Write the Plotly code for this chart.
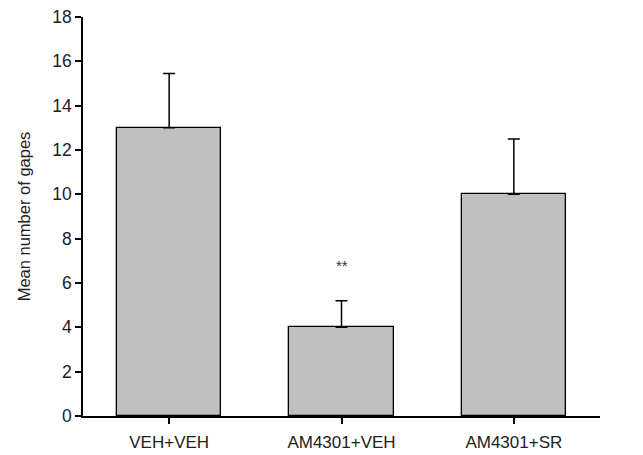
import plotly.graph_objects as go

categories = ["VEH+VEH", "AM4301+VEH", "AM4301+SR"]
means = [13.0, 4.0, 10.0]
sem_upper = [2.45, 1.2, 2.5]
significance = ["", "**", ""]
sig_y = [None, 6.8, None]
y_ticks = [0, 2, 4, 6, 8, 10, 12, 14, 16, 18]

fig = go.Figure()
fig.add_trace(go.Bar(
    x=categories, y=means,
    width=0.605,
    marker=dict(color="#c0c0c0", line=dict(color="black", width=1.3)),
    error_y=dict(type="data", symmetric=False, array=sem_upper,
                 arrayminus=[0, 0, 0], color="black", thickness=1.5, width=6),
    showlegend=False,
))

for c, s, yy in zip(categories, significance, sig_y):
    if s:
        fig.add_annotation(x=c, y=yy, text=s, showarrow=False,
                           font=dict(size=15, color="#333333"), yanchor="middle")

fig.update_layout(
    width=643, height=455,
    margin=dict(l=83, r=43, t=17, b=39),
    paper_bgcolor="white", plot_bgcolor="white",
    font=dict(family="Liberation Sans, Arial, sans-serif", size=16, color="#222222"),
    bargap=0,
)
fig.update_xaxes(
    range=[-0.5, 2.5], showline=True, linecolor="black", linewidth=1.5,
    ticks="outside", ticklen=6, tickwidth=1.5, tickcolor="black",
    showgrid=False, zeroline=False, tickfont=dict(size=17), ticklabelstandoff=4,
    automargin=False,
)
fig.update_yaxes(
    range=[0, 18], tickvals=y_ticks, showline=True, linecolor="black", linewidth=1.5,
    ticks="outside", ticklen=6, tickwidth=1.5, tickcolor="black",
    showgrid=False, zeroline=False, tickfont=dict(size=17.5),
    title=dict(text="Mean number of gapes", font=dict(size=16.5), standoff=18),
    automargin=False,
)

fig.write_html("out.html")
